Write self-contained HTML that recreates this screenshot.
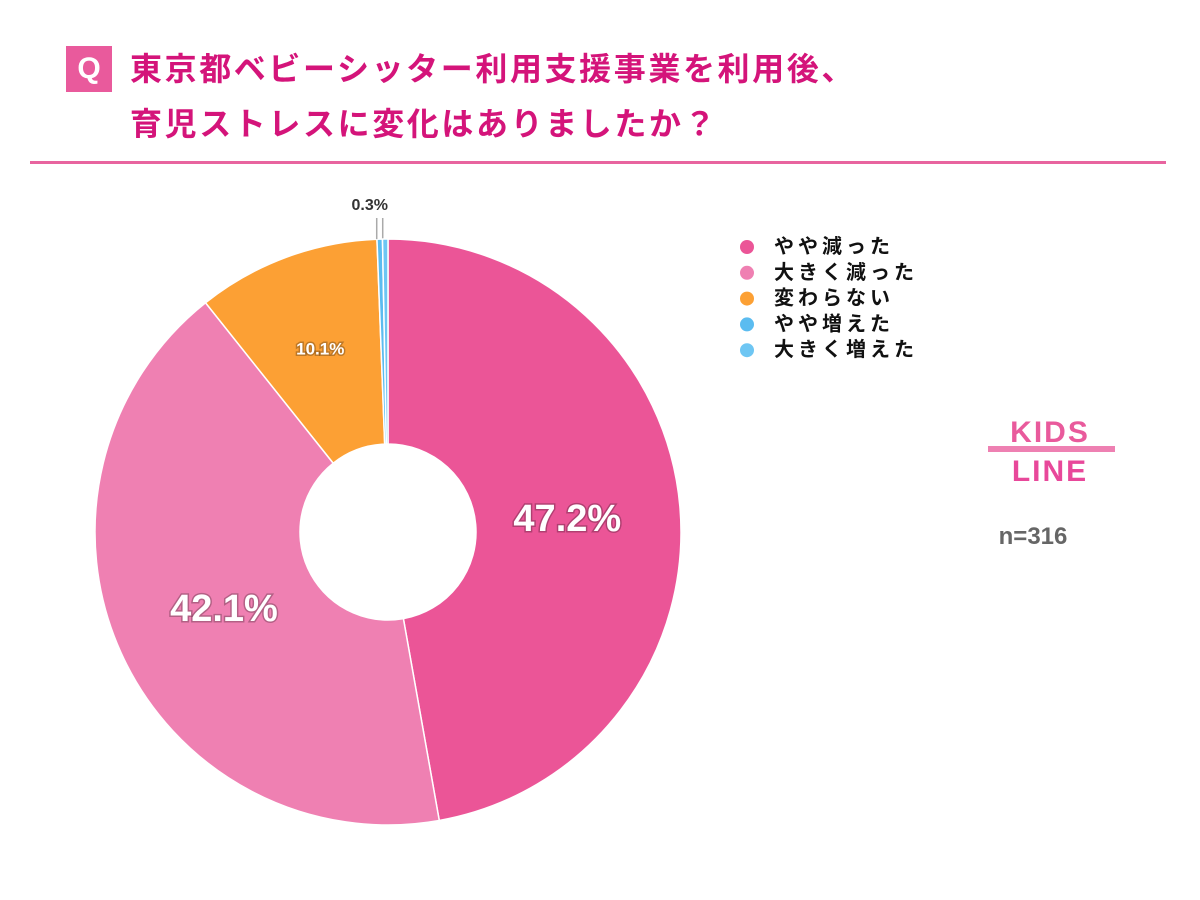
<!DOCTYPE html>
<html><head><meta charset="utf-8">
<style>
body{margin:0;width:1200px;height:900px;background:#fff;overflow:hidden;font-family:"Liberation Sans","Noto Sans CJK JP",sans-serif;}
#title{position:absolute;left:130px;top:42px;color:#d4147a;font-size:32px;font-weight:bold;line-height:55px;letter-spacing:2.6px;}
#qbox{position:absolute;left:66px;top:46px;width:46px;height:46px;background:#e95a9c;color:#fff;font-weight:bold;font-size:30px;text-align:center;line-height:46px;}
#rule{position:absolute;left:30px;top:161px;width:1136px;height:3px;background:#e8649f;}
svg{position:absolute;left:0;top:0;}
</style></head><body>
<div id="qbox">Q</div>
<div id="title">東京都ベビーシッター利用支援事業を利用後、<br>育児ストレスに変化はありましたか？</div>
<div id="rule"></div>
<svg id="chart" width="1200" height="900"></svg>
<script>
const categories=["やや減った","大きく減った","変わらない","やや増えた","大きく増えた"];
const values=[47.2,42.1,10.1,0.3,0.3];
const labels=["47.2%","42.1%","10.1%","0.3%",""];
const colors=["#eb5597","#ef80b2","#fca034","#5bbcf0","#6ec6f3"];
const NS="http://www.w3.org/2000/svg";
const svg=document.getElementById('chart');
const cx=388,cy=532,R=293,r=88;
const total=values.reduce((a,b)=>a+b,0);
function pt(a,rad){return [cx+rad*Math.sin(a),cy-rad*Math.cos(a)];}
let acc=0;
values.forEach((v,i)=>{
  const a0=acc/total*2*Math.PI; acc+=v; const a1=acc/total*2*Math.PI;
  const [x0,y0]=pt(a0,R),[x1,y1]=pt(a1,R),[x2,y2]=pt(a1,r),[x3,y3]=pt(a0,r);
  const lg=(a1-a0)>Math.PI?1:0;
  const p=document.createElementNS(NS,'path');
  p.setAttribute('d',`M${x0},${y0}A${R},${R} 0 ${lg} 1 ${x1},${y1}L${x2},${y2}A${r},${r} 0 ${lg} 0 ${x3},${y3}Z`);
  p.setAttribute('fill',colors[i]);p.setAttribute('stroke','#fff');p.setAttribute('stroke-width','1.5');
  
  
  svg.appendChild(p);
  const mid=(a0+a1)/2;
  if(labels[i]&&v>=5){
    const big=v>20;
    const [lx,ly]=pt(mid,big?180:195);
    const t=document.createElementNS(NS,'text');
    t.setAttribute('x',lx);t.setAttribute('y',ly+(big?3:0));
    t.setAttribute('text-anchor','middle');t.setAttribute('dominant-baseline','central');
    t.setAttribute('fill','#fff');t.setAttribute('font-weight','bold');
    t.setAttribute('font-size',big?38:17);
    t.setAttribute('style','paint-order:stroke;stroke:rgba(0,0,0,0.25);stroke-width:3px');
    t.textContent=labels[i];
    
    
    svg.appendChild(t);
  } else if(labels[i]){
    const [px,py]=pt(mid,R);
    const l=document.createElementNS(NS,'path');
    l.setAttribute('d',`M${px-3},${py}V218M${px+3},${py}V218`);
    l.setAttribute('stroke','#aaa');l.setAttribute('fill','none');l.setAttribute('stroke-width','1.5');
    
    
    svg.appendChild(l);
    const t=document.createElementNS(NS,'text');
    t.setAttribute('x',px-10);t.setAttribute('y',210);t.setAttribute('text-anchor','middle');
    t.setAttribute('font-size',16);t.setAttribute('font-weight','bold');t.setAttribute('fill','#333');
    t.textContent=labels[i];
    
    
    svg.appendChild(t);
  }
});
categories.forEach((c,i)=>{
  const y=247+i*25.8;
  const d=document.createElementNS(NS,'circle');
  d.setAttribute('cx',747);d.setAttribute('cy',y);d.setAttribute('r',7);d.setAttribute('fill',colors[i]);
  
  
  svg.appendChild(d);
  const t=document.createElementNS(NS,'text');
  t.setAttribute('x',774);t.setAttribute('y',y);t.setAttribute('dominant-baseline','central');
  t.setAttribute('font-size',20);t.setAttribute('font-weight','bold');t.setAttribute('fill','#111');
  t.setAttribute('letter-spacing','4');
  t.textContent=c;
  
  
  svg.appendChild(t);
});
</script>
<svg width="1200" height="900">
  <path d="M988,449 H1115" stroke="#ee80b2" stroke-width="6"/>
  <text x="1050" y="442" text-anchor="middle" font-size="30" font-weight="bold" fill="#e95a9c" font-family="Liberation Sans,sans-serif" letter-spacing="2">KIDS</text>
  <text x="1050" y="481" text-anchor="middle" font-size="30" font-weight="bold" fill="#e8489a" font-family="Liberation Sans,sans-serif" letter-spacing="2">LINE</text>
  <text x="1033" y="544" text-anchor="middle" font-size="24" font-weight="bold" fill="#666" font-family="Liberation Sans,sans-serif">n=316</text>
</svg>
</body></html>
